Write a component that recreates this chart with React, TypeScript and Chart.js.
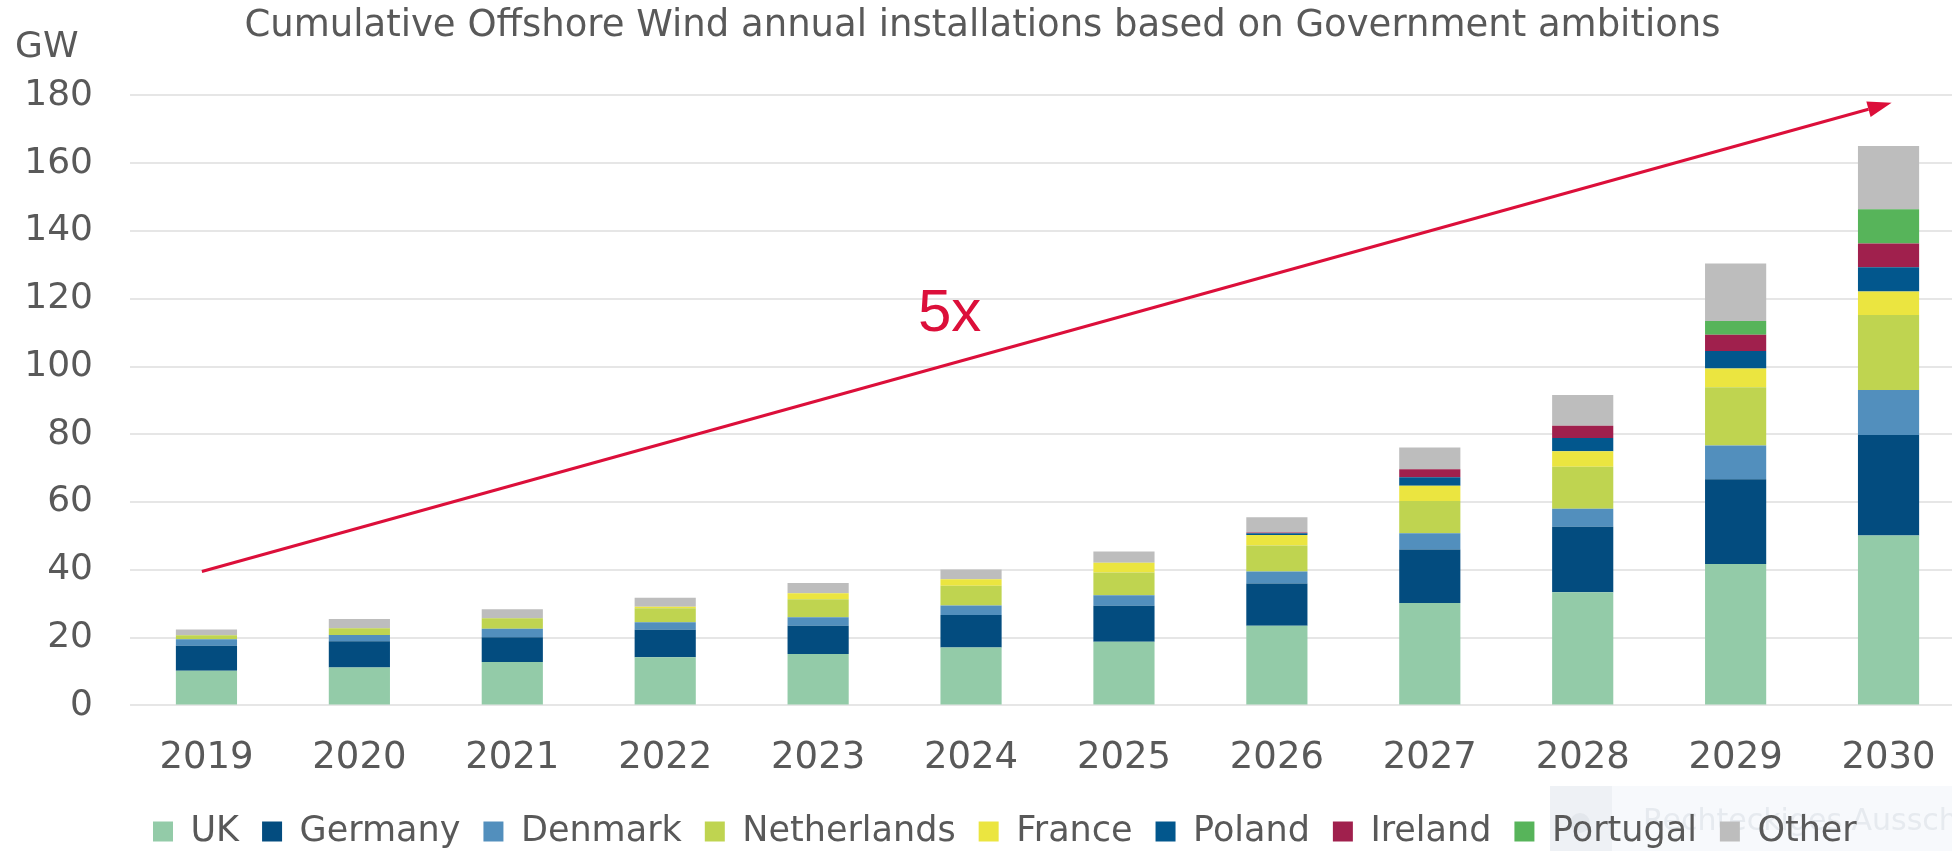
import React, { useEffect, useRef } from 'react';
import { Chart, registerables } from 'chart.js';

Chart.register(...registerables);

const TITLE = 'Cumulative Offshore Wind annual installations based on Government ambitions';
const UNIT_LABEL = 'GW';
const GROWTH_LABEL = '5x';
const SNIP_LABEL = 'Rechteckiges Ausschneiden';

const YEARS = ['2019', '2020', '2021', '2022', '2023', '2024', '2025', '2026', '2027', '2028', '2029', '2030'];

const UK = [10.2, 11.2, 12.8, 14.2, 15.2, 17.1, 18.8, 23.5, 30.2, 33.4, 41.7, 50.1];
const GERMANY = [7.4, 7.7, 7.3, 8.1, 8.3, 9.6, 10.6, 12.5, 15.8, 19.3, 25.0, 29.7];
const DENMARK = [1.9, 1.9, 2.5, 2.2, 2.5, 2.8, 3.1, 3.5, 4.8, 5.3, 10.0, 13.3];
const NETHERLANDS = [1.2, 2.0, 3.1, 4.2, 5.3, 5.8, 6.7, 7.7, 9.5, 12.4, 17.2, 22.1];
const FRANCE = [0, 0, 0, 0.4, 1.8, 1.9, 2.9, 3.1, 4.5, 4.6, 5.5, 6.9];
const POLAND = [0, 0, 0, 0, 0, 0, 0, 0.5, 2.5, 3.9, 5.2, 7.2];
const IRELAND = [0, 0, 0, 0, 0, 0, 0, 0.2, 2.4, 3.6, 4.8, 7.0];
const PORTUGAL = [0, 0, 0, 0, 0, 0, 0, 0, 0, 0, 4.0, 10.1];
const OTHER = [1.7, 2.7, 2.7, 2.7, 3.0, 2.9, 3.3, 4.5, 6.4, 9.1, 17.0, 18.7];

const SERIES_NAMES = ['UK', 'Germany', 'Denmark', 'Netherlands', 'France', 'Poland', 'Ireland', 'Portugal', 'Other'];
const SERIES_VALUES = [UK, GERMANY, DENMARK, NETHERLANDS, FRANCE, POLAND, IRELAND, PORTUGAL, OTHER];
const SERIES_COLORS = ['#93cba8', '#034c7f', '#528fbd', '#bfd450', '#ebe540', '#02578d', '#a0204d', '#57b45a', '#bdbdbd'];

const Y_MIN = 0;
const Y_MAX = 180;
const Y_STEP = 20;

// Annotation anchors in data units: [category index, GW]
const ARROW_FROM = [-0.03, 39.5];
const ARROW_TO = [11.02, 177.8];
const GROWTH_AT = [4.86, 115.4];

const FONT = "'DejaVu Sans', sans-serif";
const TEXT_COLOR = '#595959';
const ACCENT = '#dc0f3a';

const annotationPlugin = {
  id: 'annotations',
  beforeDraw(chart: any) {
    const ctx = chart.ctx;
    ctx.save();
    ctx.fillStyle = '#f7f9fc';
    ctx.fillRect(1550, 786, 420, 80);
    ctx.fillStyle = '#eef1f5';
    ctx.fillRect(1550, 786, 62, 80);
    ctx.beginPath();
    ctx.arc(1580, 823, 10, 0, Math.PI * 2);
    ctx.fillStyle = '#e3e7ec';
    ctx.fill();
    ctx.font = `30px ${FONT}`;
    ctx.fillStyle = '#e6eaef';
    ctx.textBaseline = 'middle';
    ctx.textAlign = 'left';
    ctx.fillText(SNIP_LABEL, 1643, 822);
    ctx.restore();
  },
  afterDatasetsDraw(chart: any) {
    const ctx = chart.ctx;
    const xs = chart.scales.x;
    const ys = chart.scales.y;
    const x0 = xs.getPixelForValue(ARROW_FROM[0]);
    const y0 = ys.getPixelForValue(ARROW_FROM[1]);
    const x1 = xs.getPixelForValue(ARROW_TO[0]);
    const y1 = ys.getPixelForValue(ARROW_TO[1]);
    const ang = Math.atan2(y1 - y0, x1 - x0);
    const headLen = 24;
    const headHalf = 8;
    const bx = x1 - headLen * Math.cos(ang);
    const by = y1 - headLen * Math.sin(ang);
    ctx.save();
    ctx.strokeStyle = ACCENT;
    ctx.fillStyle = ACCENT;
    ctx.lineWidth = 3;
    ctx.beginPath();
    ctx.moveTo(x0, y0);
    ctx.lineTo(bx, by);
    ctx.stroke();
    ctx.beginPath();
    ctx.moveTo(x1, y1);
    ctx.lineTo(bx + headHalf * Math.sin(ang), by - headHalf * Math.cos(ang));
    ctx.lineTo(bx - headHalf * Math.sin(ang), by + headHalf * Math.cos(ang));
    ctx.closePath();
    ctx.fill();

    ctx.font = `60px 'Liberation Sans', Arial, sans-serif`;
    ctx.textAlign = 'center';
    ctx.textBaseline = 'middle';
    ctx.fillText(GROWTH_LABEL, xs.getPixelForValue(GROWTH_AT[0]), ys.getPixelForValue(GROWTH_AT[1]));

    ctx.font = `36px ${FONT}`;
    ctx.fillStyle = TEXT_COLOR;
    ctx.textAlign = 'left';
    ctx.fillText(UNIT_LABEL, 15, 48);
    ctx.restore();
  },
};

export default function App() {
  const canvasRef = useRef<HTMLCanvasElement | null>(null);

  useEffect(() => {
    if (!canvasRef.current) return;
    const chart = new Chart(canvasRef.current, {
      type: 'bar',
      data: {
        labels: YEARS,
        datasets: SERIES_NAMES.map((name, i) => ({
          label: name,
          data: SERIES_VALUES[i],
          backgroundColor: SERIES_COLORS[i],
          borderWidth: 0,
          barPercentage: 0.4,
          categoryPercentage: 1.0,
        })),
      },
      options: {
        animation: false,
        responsive: true,
        maintainAspectRatio: false,
        layout: { padding: { left: 0, right: 0, top: 0, bottom: 0 } },
        plugins: {
          tooltip: { enabled: false },
          title: {
            display: true,
            text: TITLE,
            color: TEXT_COLOR,
            font: { family: FONT, size: 37, weight: 'normal' },
            padding: { top: 4.3, bottom: 46.7 },
          },
          legend: {
            position: 'bottom',
            align: 'start',
            fullSize: false,
            labels: {
              boxWidth: 20,
              boxHeight: 20,
              padding: 23,
              color: TEXT_COLOR,
              font: { family: FONT, size: 35 },
            },
          },
        },
        scales: {
          x: {
            stacked: true,
            grid: { display: false },
            border: { display: false },
            ticks: { color: TEXT_COLOR, font: { family: FONT, size: 37 }, padding: 23 },
            afterFit: (scale: any) => {
              scale.height = 85.6;
            },
          },
          y: {
            stacked: true,
            min: Y_MIN,
            max: Y_MAX,
            grid: { color: '#e6e6e6', lineWidth: 2, drawTicks: false },
            border: { display: false },
            ticks: { stepSize: Y_STEP, color: TEXT_COLOR, font: { family: FONT, size: 36 }, padding: 37 },
            afterFit: (scale: any) => {
              scale.width = 130;
            },
          },
        },
      },
      plugins: [annotationPlugin],
    });
    return () => chart.destroy();
  }, []);

  return (
    <div style={{ position: 'fixed', left: 0, top: 0, width: 1952, height: 851, overflow: 'hidden', background: '#fff' }}>
      <div style={{ position: 'relative', width: 1965, height: 859 }}>
        <canvas ref={canvasRef} />
      </div>
    </div>
  );
}
